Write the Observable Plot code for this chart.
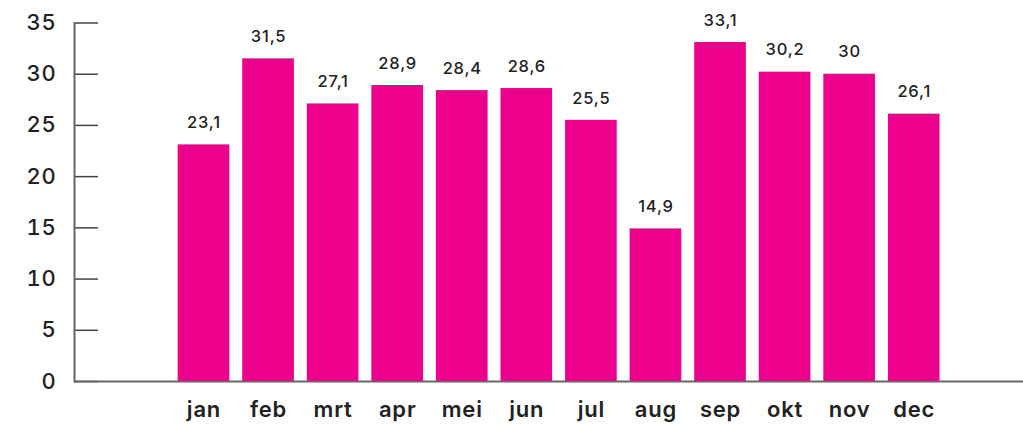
<!DOCTYPE html>
<html>
<head>
<meta charset="utf-8">
<script src="https://cdn.jsdelivr.net/npm/d3@7"></script>
<script src="https://cdn.jsdelivr.net/npm/@observablehq/plot@0.6"></script>
<style>
  html, body { margin: 0; padding: 0; background: #fff; }
  #chart svg { display: block; }
</style>
</head>
<body>
<div id="chart"></div>
<script>
const months = ["jan", "feb", "mrt", "apr", "mei", "jun", "jul", "aug", "sep", "okt", "nov", "dec"];
const values = [23.1, 31.5, 27.1, 28.9, 28.4, 28.6, 25.5, 14.9, 33.1, 30.2, 30, 26.1];
const yTicks = [0, 5, 10, 15, 20, 25, 30, 35];

const data = months.map((m, i) => ({month: m, value: values[i]}));
const fmt = v => String(v).replace(".", ",");
const font = "Inter, 'Noto Sans', sans-serif";

const chart = Plot.plot({
  width: 1023,
  height: 424,
  marginLeft: 74,
  marginRight: 0,
  marginTop: 22.5,
  marginBottom: 43,
  style: {fontFamily: font, color: "#222", background: "#fff", letterSpacing: "0.8px"},
  x: {domain: months, range: [171.2, 946.0], paddingInner: 0.2, paddingOuter: 0.1, round: false, label: null},
  y: {domain: [0, 35], label: null},
  marks: [
    Plot.barY(data, {x: "month", y: "value", fill: "#EC008C"}),
    Plot.text(data, {x: "month", y: "value", text: d => fmt(d.value), dy: -22, fontSize: 16.5, fontWeight: 500, fill: "#222"}),
    Plot.axisY({ticks: yTicks, tickSize: 24, dx: 24, text: null, stroke: "#444", strokeWidth: 1.5}),
    Plot.axisY({ticks: yTicks, tickSize: 0, tickPadding: 18, fontSize: 22, fontWeight: 500, fill: "#222", label: null}),
    Plot.axisX({tickSize: 0, tickPadding: 20, fontSize: 22, fontWeight: 600, fill: "#222", label: null}),
    Plot.frame({anchor: "left", stroke: "#666", strokeWidth: 2}),
    Plot.ruleY([0], {stroke: "#666", strokeWidth: 2})
  ]
});
document.getElementById("chart").append(chart);
</script>
</body>
</html>
